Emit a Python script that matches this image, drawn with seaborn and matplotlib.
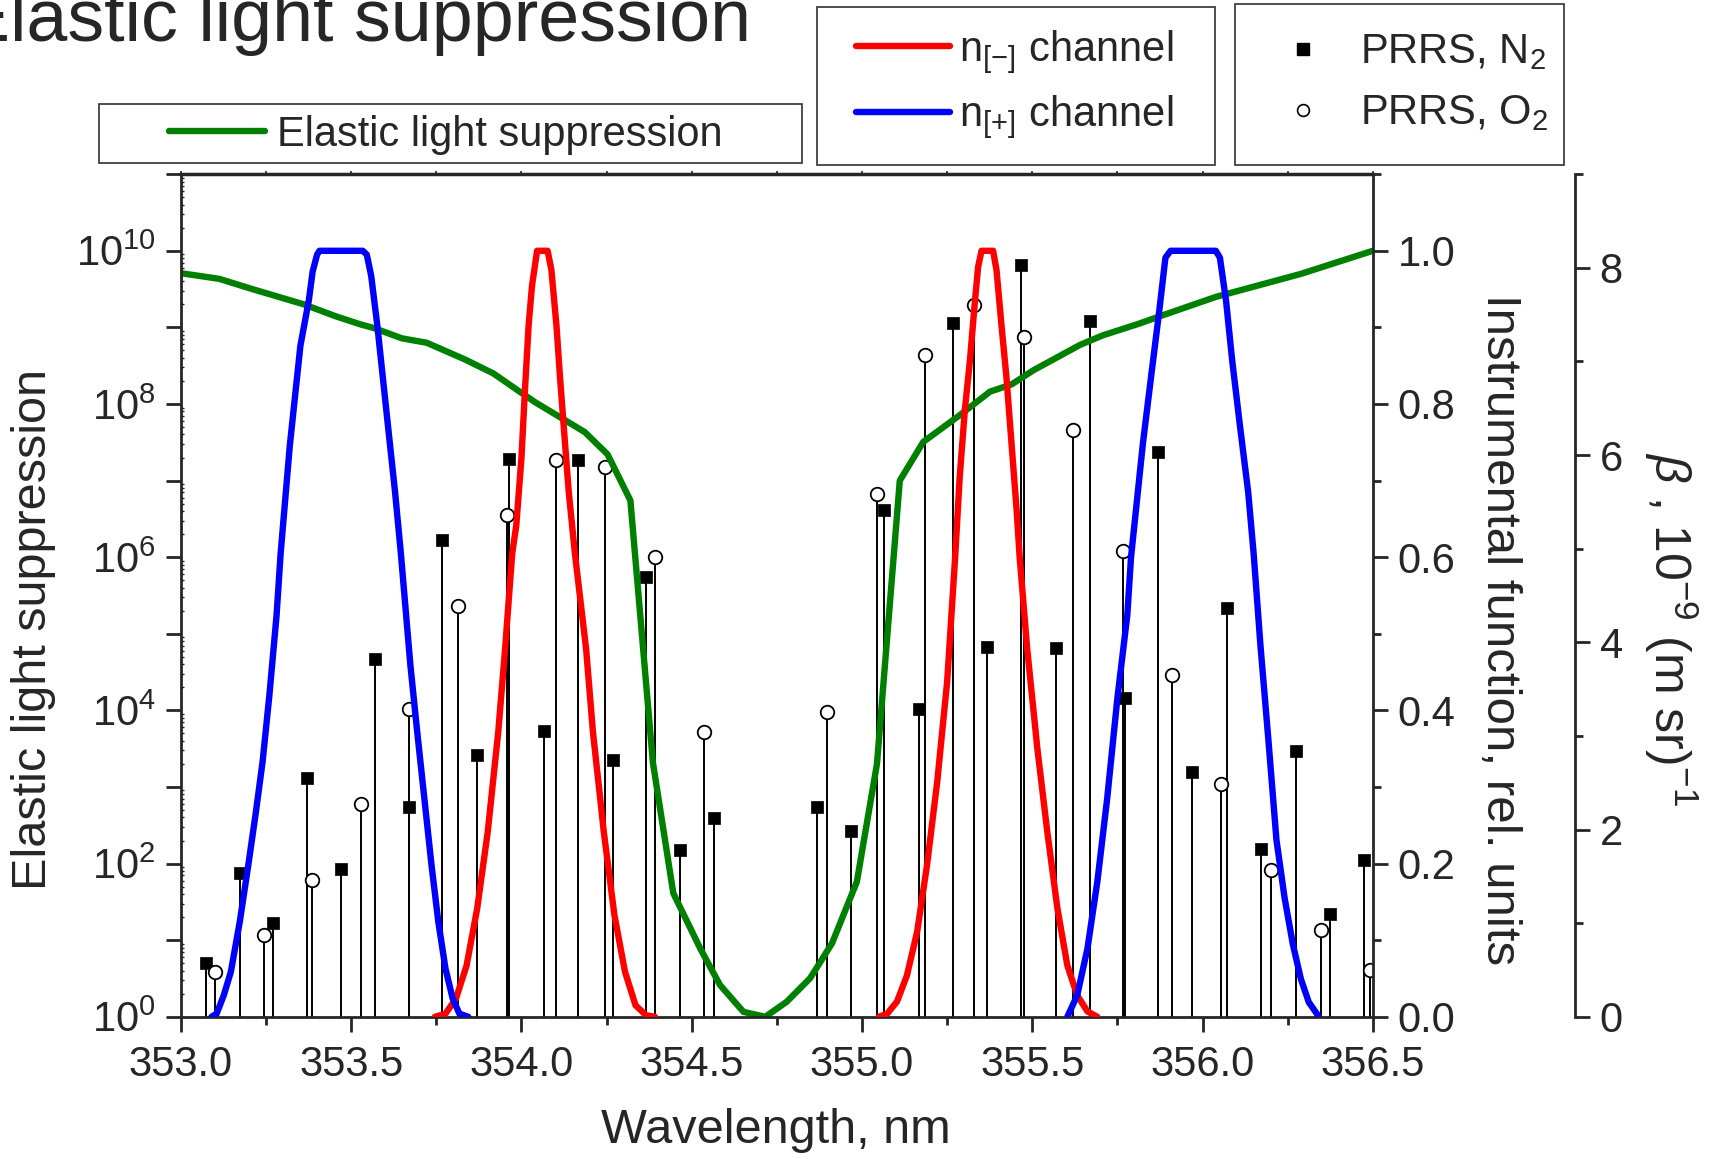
import numpy as np
import pandas as pd
import matplotlib
matplotlib.use('Agg')
import matplotlib.pyplot as plt
import seaborn as sns
from matplotlib.lines import Line2D
from matplotlib.patches import Rectangle
from matplotlib.ticker import LogLocator, MultipleLocator, FuncFormatter, NullFormatter, FormatStrFormatter

# ---------------- data ----------------
# PRRS N2 lines: wavelength (nm), beta (1e-9 (m sr)^-1)
n2_wl = [353.074, 353.173, 353.271, 353.371, 353.470, 353.570, 353.670, 353.767, 353.869, 353.965,
         354.067, 354.167, 354.268, 354.367, 354.465, 354.566, 354.867, 354.967, 355.066, 355.168,
         355.268, 355.368, 355.468, 355.570, 355.670, 355.771, 355.869, 355.970, 356.071, 356.171,
         356.273, 356.374, 356.475]
n2_beta = [0.57, 1.54, 1.00, 2.55, 1.58, 3.82, 2.24, 5.09, 2.80, 5.96,
           3.05, 5.95, 2.74, 4.70, 1.78, 2.12, 2.24, 1.98, 5.41, 3.29,
           7.41, 3.95, 8.03, 3.94, 7.43, 3.40, 6.03, 2.61, 4.37, 1.79,
           2.84, 1.10, 1.68]
# PRRS O2 lines
o2_wl = [353.100, 353.243, 353.385, 353.529, 353.671, 353.815, 353.957, 354.103, 354.245, 354.391,
         354.535, 354.897, 355.043, 355.184, 355.328, 355.476, 355.621, 355.767, 355.909, 356.053,
         356.202, 356.347, 356.491]
o2_beta = [0.48, 0.87, 1.46, 2.27, 3.29, 4.39, 5.36, 5.95, 5.87, 4.91,
           3.04, 3.26, 5.58, 7.07, 7.60, 7.26, 6.27, 4.97, 3.65, 2.49,
           1.57, 0.93, 0.505]

# Elastic light suppression (left log axis)
els_wl = [353.000, 353.113, 353.206, 353.361, 353.454, 353.526, 353.567, 353.649, 353.722, 353.835,
          353.918, 353.990, 354.041, 354.124, 354.186, 354.253, 354.320, 354.386, 354.446, 354.525,
          354.583, 354.652, 354.716, 354.779, 354.848, 354.912, 354.985, 355.044, 355.111, 355.180,
          355.288, 355.376, 355.439, 355.503, 355.640, 355.708, 355.814, 355.885, 356.039, 356.289,
          356.500]
els_val = [5.1e9, 4.3e9, 3.2e9, 2.0e9, 1.4e9, 1.1e9, 9.8e8, 7.2e8, 6.3e8, 3.8e8,
           2.5e8, 1.5e8, 1.05e8, 6.3e7, 4.3e7, 2.2e7, 5.5e6, 2.1e3, 41.0, 7.8,
           2.6, 1.16, 1.0, 1.57, 3.2, 9.1, 58.0, 2.0e3, 1.0e7, 3.2e7,
           7.2e7, 1.45e8, 1.8e8, 2.75e8, 5.9e8, 7.9e8, 1.12e9, 1.45e9, 2.5e9, 5.0e9,
           1.0e10]

# n[-] channel instrumental function (two peaks)
nm1_wl = [353.746, 353.777, 353.808, 353.839, 353.870, 353.901, 353.932, 353.952, 353.973, 353.985,
          354.000, 354.010, 354.021, 354.031, 354.046, 354.077, 354.088, 354.103, 354.113, 354.124,
          354.139, 354.157, 354.190, 354.210, 354.242, 354.273, 354.304, 354.335, 354.366, 354.392]
nm1_val = [0.000, 0.004, 0.024, 0.067, 0.141, 0.241, 0.372, 0.480, 0.605, 0.642,
           0.729, 0.815, 0.902, 0.954, 1.000, 1.000, 0.975, 0.902, 0.837, 0.772,
           0.685, 0.605, 0.480, 0.372, 0.241, 0.133, 0.059, 0.015, 0.002, 0.000]
nm2_wl = [355.049, 355.074, 355.103, 355.132, 355.162, 355.191, 355.221, 355.250, 355.273, 355.287,
          355.302, 355.317, 355.331, 355.341, 355.351, 355.385, 355.395, 355.410, 355.424, 355.439,
          355.454, 355.463, 355.485, 355.515, 355.544, 355.574, 355.603, 355.632, 355.662, 355.691]
nm2_val = [0.000, 0.004, 0.020, 0.054, 0.111, 0.198, 0.307, 0.437, 0.596, 0.705,
           0.792, 0.857, 0.931, 0.979, 1.000, 1.000, 0.975, 0.901, 0.836, 0.749,
           0.662, 0.600, 0.481, 0.350, 0.242, 0.141, 0.067, 0.028, 0.007, 0.000]

# n[+] channel instrumental function (two flat-top peaks)
np1_wl = [353.090, 353.105, 353.126, 353.147, 353.173, 353.198, 353.219, 353.240, 353.260, 353.281,
          353.293, 353.320, 353.351, 353.376, 353.387, 353.400, 353.407, 353.534, 353.546, 353.559,
          353.577, 353.603, 353.629, 353.646, 353.674, 353.694, 353.715, 353.736, 353.756, 353.777,
          353.798, 353.818, 353.844]
np1_val = [0.000, 0.004, 0.028, 0.059, 0.124, 0.198, 0.263, 0.333, 0.420, 0.524,
           0.605, 0.746, 0.876, 0.936, 0.973, 0.995, 1.000, 1.000, 0.995, 0.967,
           0.902, 0.793, 0.685, 0.605, 0.459, 0.372, 0.285, 0.198, 0.124, 0.063,
           0.024, 0.004, 0.000]
np2_wl = [355.603, 355.632, 355.662, 355.691, 355.720, 355.750, 355.779, 355.790, 355.825, 355.849,
          355.873, 355.891, 355.906, 356.039, 356.051, 356.069, 356.087, 356.110, 356.134, 356.150,
          356.170, 356.194, 356.217, 356.241, 356.265, 356.289, 356.312, 356.342]
np2_val = [0.000, 0.028, 0.089, 0.176, 0.285, 0.416, 0.524, 0.600, 0.749, 0.836,
           0.922, 0.991, 1.000, 1.000, 0.991, 0.935, 0.857, 0.771, 0.685, 0.605,
           0.485, 0.358, 0.231, 0.155, 0.095, 0.049, 0.019, 0.000]

xticks = [353.0, 353.5, 354.0, 354.5, 355.0, 355.5, 356.0, 356.5]

# ---------------- style ----------------
sns.set_theme(style='ticks')
plt.rcParams['font.family'] = ['Liberation Sans', 'DejaVu Sans']
plt.rcParams['mathtext.fontset'] = 'custom'
plt.rcParams['mathtext.rm'] = 'Liberation Sans'
plt.rcParams['mathtext.it'] = 'Liberation Sans:italic'
plt.rcParams['mathtext.bf'] = 'Liberation Sans:bold'
plt.rcParams['axes.linewidth'] = 2.0

FS = 30
LW = 4.6
GREEN = '#008000'
RED = '#FF0000'
BLUE = '#0000FF'

fig = plt.figure(figsize=(17.29, 11.59), dpi=100)
ax = fig.add_axes([0.1046, 0.1227, 0.6894, 0.727])
axb = ax.twinx()   # beta axis
axi = ax.twinx()   # instrumental function axis

axb.set_zorder(1)
ax.set_zorder(2)
axi.set_zorder(3)
for a in (ax, axb, axi):
    a.patch.set_visible(False)

# stems (beta axis)
axb.vlines(n2_wl, 0, n2_beta, colors='black', lw=1.4, zorder=2)
axb.vlines(o2_wl, 0, o2_beta, colors='black', lw=1.4, zorder=2)
sns.scatterplot(x=n2_wl, y=n2_beta, ax=axb, marker='s', s=75, color='black',
                edgecolor='black', linewidth=0.5, zorder=3, legend=False)
sns.scatterplot(x=o2_wl, y=o2_beta, ax=axb, marker='o', s=95, color='white',
                edgecolor='black', linewidth=1.3, zorder=3, legend=False)

# elastic light suppression (log axis)
sns.lineplot(x=els_wl, y=els_val, ax=ax, color=GREEN, lw=LW, sort=False,
             solid_joinstyle='round', solid_capstyle='round')

# instrumental functions
for wl, val, c in [(nm1_wl, nm1_val, RED), (nm2_wl, nm2_val, RED),
                   (np1_wl, np1_val, BLUE), (np2_wl, np2_val, BLUE)]:
    sns.lineplot(x=wl, y=val, ax=axi, color=c, lw=LW, sort=False,
                 solid_joinstyle='round', solid_capstyle='round')

# ---------------- axes ----------------
ax.set_xlim(353.0, 356.5)
ax.set_yscale('log')
ax.set_ylim(1, 1e11)
ax.xaxis.set_minor_locator(MultipleLocator(0.25))
ax.set_xticks(xticks)
ax.xaxis.set_major_formatter(FormatStrFormatter('%.1f'))
ax.yaxis.set_major_locator(LogLocator(base=10, numticks=20))
ax.yaxis.set_minor_locator(LogLocator(base=10, subs=np.arange(2, 10), numticks=20))
ax.yaxis.set_minor_formatter(NullFormatter())


def logfmt(v, pos):
    e = int(round(np.log10(v)))
    if e % 2 == 0:
        return r'$\mathregular{10^{%d}}$' % e
    return ''


ax.yaxis.set_major_formatter(FuncFormatter(logfmt))
ax.tick_params(axis='x', which='major', direction='out', length=11, width=2, pad=9, labelsize=FS)
ax.tick_params(axis='x', which='minor', direction='out', length=6, width=2)
ax.tick_params(axis='y', which='major', direction='out', length=11, width=2, pad=7, labelsize=FS)
ax.tick_params(axis='y', which='minor', direction='in', length=2.5, width=1)
ax.spines['right'].set_visible(False)
ax.spines['top'].set_linewidth(2.5)

top = ax.secondary_xaxis('top')
top.xaxis.set_major_locator(MultipleLocator(0.25))
top.tick_params(direction='out', length=2.5, width=1.2, labelsize=0)
top.set_xticklabels([])
top.spines['top'].set_visible(False)

axi.set_ylim(0, 1.1)
axi.yaxis.set_major_locator(MultipleLocator(0.2))
axi.yaxis.set_minor_locator(MultipleLocator(0.1))
axi.yaxis.set_major_formatter(FormatStrFormatter('%.1f'))
axi.tick_params(axis='y', which='major', direction='out', length=11, width=2, pad=7, labelsize=FS)
axi.tick_params(axis='y', which='minor', direction='out', length=6, width=2)
for s in ('left', 'top', 'bottom'):
    axi.spines[s].set_visible(False)

axb.set_ylim(0, 9)
axb.yaxis.set_major_locator(MultipleLocator(2))
axb.yaxis.set_minor_locator(MultipleLocator(1))
axb.tick_params(axis='y', which='major', direction='out', length=11, width=2, pad=7, labelsize=FS)
axb.tick_params(axis='y', which='minor', direction='out', length=6, width=2)
axb.spines['right'].set_position(('axes', 1.1693))
for s in ('left', 'top', 'bottom'):
    axb.spines[s].set_visible(False)

# labels
ax.set_xlabel('Wavelength, nm', fontsize=35)
ax.xaxis.set_label_coords(0.4995, -0.135)
ax.xaxis.label.set_va('center')
ax.set_ylabel('Elastic light suppression', fontsize=35)
ax.yaxis.set_label_coords(-0.124, 0.46)
ax.yaxis.label.set_va('center')
axi.set_ylabel('Instrumental function, rel. units', fontsize=35.5, rotation=270)
axi.yaxis.set_label_coords(1.106, 0.459)
axi.yaxis.label.set_va('center')
axi.yaxis.label.set_ha('center')
axb.set_ylabel(r'$\it{\beta}$ , 10$^{-9}$ (m sr)$^{-1}$', fontsize=36, rotation=270)
axb.yaxis.set_label_coords(1.25, 0.46)
axb.yaxis.label.set_va('center')
axb.yaxis.label.set_ha('center')

# title (partly cut off at the top-left in the reference)
fig.text(-0.0225, 0.9646, 'Elastic light suppression', fontsize=53, ha='left', va='baseline')

# ---------------- legends ----------------
box_kw = dict(transform=fig.transFigure, fill=False, edgecolor='#404040', lw=1.3, zorder=10)
fig.patches.append(Rectangle((0.0574, 0.8592), 0.4062, 0.0514, **box_kw))
fig.patches.append(Rectangle((0.4726, 0.8573), 0.2302, 0.1370, **box_kw))
fig.patches.append(Rectangle((0.7143, 0.8573), 0.1901, 0.1389, **box_kw))

h1 = [Line2D([], [], color=GREEN, lw=LW, solid_capstyle='round')]
leg1 = fig.legend(h1, ['Elastic light suppression'], loc='center left',
                  bbox_to_anchor=(0.0976, 0.8835), frameon=False, fontsize=FS,
                  borderpad=0, borderaxespad=0, handlelength=2.3, handletextpad=0.3)
h2 = [Line2D([], [], color=RED, lw=LW, solid_capstyle='round'),
      Line2D([], [], color=BLUE, lw=LW, solid_capstyle='round')]
leg2 = fig.legend(h2, [r'n$_{[-]}$ channel', r'n$_{[+]}$ channel'], loc='center left',
                  bbox_to_anchor=(0.4949, 0.9268), frameon=False, fontsize=FS,
                  borderpad=0, borderaxespad=0, handlelength=2.27, handletextpad=0.2,
                  labelspacing=0.43)
h3 = [Line2D([], [], marker='s', ls='none', color='black', markersize=8),
      Line2D([], [], marker='o', ls='none', mfc='white', mec='black', mew=1.2, markersize=8.5)]
leg3 = fig.legend(h3, [r'PRRS, N$_2$', r'PRRS, O$_2$'], loc='center left',
                  bbox_to_anchor=(0.7297, 0.9286), frameon=False, fontsize=FS,
                  borderpad=0, borderaxespad=0, handlelength=2.0, handletextpad=0.35,
                  labelspacing=0.5)

fig.savefig('out.png', dpi=100)
